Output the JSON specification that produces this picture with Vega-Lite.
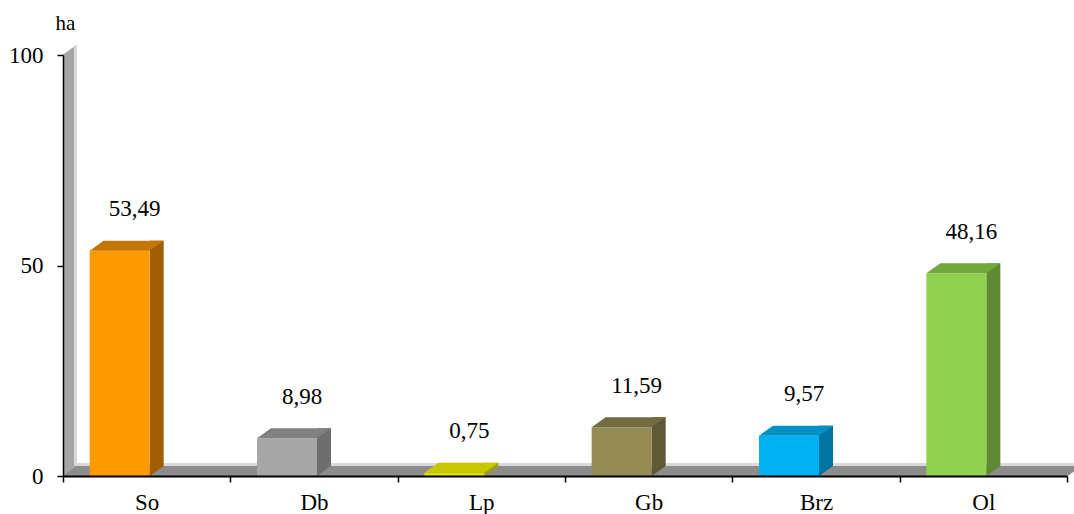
{
  "$schema": "https://vega.github.io/schema/vega-lite/v6.json",
  "width": 1004,
  "height": 421,
  "autosize": {"type": "none"},
  "padding": {"left": 63, "top": 55, "right": 7, "bottom": 38},
  "background": "white",
  "config": {"view": {"stroke": null}, "font": "Liberation Serif"},
  "data": {"values": [
    {"cat": "So", "v": 53.49, "label": "53,49"},
    {"cat": "Db", "v": 8.98, "label": "8,98"},
    {"cat": "Lp", "v": 0.75, "label": "0,75"},
    {"cat": "Gb", "v": 11.59, "label": "11,59"},
    {"cat": "Brz", "v": 9.57, "label": "9,57"},
    {"cat": "Ol", "v": 48.16, "label": "48,16"}
  ]},
  "encoding": {
    "x": {"field": "cat", "type": "nominal", "sort": null,
      "scale": {"type": "band", "paddingInner": 0, "paddingOuter": 0, "domain": ["So", "Db", "Lp", "Gb", "Brz", "Ol"]},
      "axis": {"title": null, "labelAngle": 0, "labelFont": "Liberation Serif", "labelFontSize": 23, "labelColor": "black",
        "labelPadding": 9, "tickBand": "extent", "tickSize": 6, "tickColor": "black", "tickWidth": 1.5,
        "domainColor": "black", "domainWidth": 2, "zindex": 1}},
    "y": {"field": "v", "type": "quantitative",
      "scale": {"domain": [0, 100], "nice": false},
      "axis": {"values": [0, 50, 100], "grid": false, "title": "ha", "titleAngle": 0, "titleX": 2, "titleY": -32,
        "titleAlign": "center", "titleBaseline": "middle", "titleFont": "Liberation Serif", "titleFontSize": 21,
        "titleFontWeight": "normal", "titleColor": "black",
        "labelFont": "Liberation Serif", "labelFontSize": 23, "labelColor": "black", "labelPadding": 14,
        "tickSize": 6, "tickColor": "black", "tickWidth": 1.5, "domainColor": "black", "domainWidth": 1.5, "zindex": 1}}
  },
  "layer": [
    {
      "mark": {"type": "point", "shape": "M0,0 L0,-421 L14,-431 L14,-10 Z", "size": 4, "filled": true, "fill": "#a6a6a6", "opacity": 1, "strokeWidth": 0, "xOffset": -83.67},
      "encoding": {"x": {"datum": "So"}, "y": {"datum": 0}}
    },
    {
      "mark": {"type": "point", "shape": "M0,0 L14,-10 L1018,-10 L1004,0 Z", "size": 4, "filled": true, "fill": "#8c8c8c", "opacity": 1, "strokeWidth": 0, "xOffset": -83.67},
      "encoding": {"x": {"datum": "So"}, "y": {"datum": 0}}
    },
    {
      "mark": {"type": "point", "shape": "M11.5,-11 L11.5,-429.5 L14,-431 L14,-10 Z M14,-10 L1018,-10 L1018,-12.5 L14,-12.5 Z", "size": 4, "filled": true, "fill": "#d9d9d9", "opacity": 1, "strokeWidth": 0, "xOffset": -83.67},
      "encoding": {"x": {"datum": "So"}, "y": {"datum": 0}}
    },
    {
      "mark": {"type": "bar", "width": 14, "xOffset": 10, "yOffset": -10, "y2Offset": -10},
      "encoding": {
        "y2": {"datum": 0},
        "color": {"field": "cat", "type": "nominal", "legend": null,
          "scale": {"domain": ["So", "Db", "Lp", "Gb", "Brz", "Ol"], "range": ["#a05e00", "#6e6e6e", "#a0a000", "#5e5835", "#0074a0", "#5f8a33"]}}
      }
    },
    {
      "mark": {"type": "point", "shape": "M0,0 L0,-10 L14,-10 Z", "size": 4, "filled": true, "opacity": 1, "strokeWidth": 0, "xOffset": 3},
      "encoding": {
        "y": {"datum": 0},
        "color": {"field": "cat", "type": "nominal", "legend": null,
          "scale": {"domain": ["So", "Db", "Lp", "Gb", "Brz", "Ol"], "range": ["#a05e00", "#6e6e6e", "#a0a000", "#5e5835", "#0074a0", "#5f8a33"]}}
      }
    },
    {
      "mark": {"type": "bar", "width": 60, "xOffset": -27},
      "encoding": {
        "y2": {"datum": 0},
        "color": {"field": "cat", "type": "nominal", "legend": null,
          "scale": {"domain": ["So", "Db", "Lp", "Gb", "Brz", "Ol"], "range": ["#ff9900", "#a6a6a6", "#e0e000", "#948a54", "#00b0f0", "#92d050"]}}
      }
    },
    {
      "mark": {"type": "point", "shape": "M0,0 L14,-10 L74,-10 L60,0 Z", "size": 4, "filled": true, "opacity": 1, "strokeWidth": 0, "xOffset": -57},
      "encoding": {
        "color": {"field": "cat", "type": "nominal", "legend": null,
          "scale": {"domain": ["So", "Db", "Lp", "Gb", "Brz", "Ol"], "range": ["#c47600", "#808080", "#c8c800", "#736b41", "#0090c4", "#73a83e"]}}
      }
    },
    {
      "mark": {"type": "text", "font": "Liberation Serif", "fontSize": 23, "color": "black", "dx": -12, "dy": -41.5, "baseline": "middle", "align": "center"},
      "encoding": {"text": {"field": "label"}}
    }
  ],
  "resolve": {"scale": {"color": "independent"}}
}
